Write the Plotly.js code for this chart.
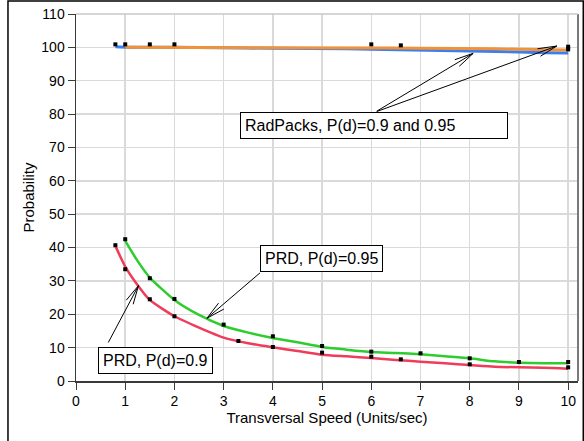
<!DOCTYPE html>
<html>
<head>
<meta charset="utf-8">
<script src="https://cdn.plot.ly/plotly-3.0.1.min.js"></script>
<style>html,body{margin:0;padding:0;background:#fff;}#chart{width:584px;height:441px;}</style>
</head>
<body>
<div id="chart"></div>
<script>
// ---- data ----
var speedRadBlue = [0.8, 1, 2, 3, 3.5, 4, 5, 5.5, 6, 6.5, 7, 7.5, 8, 8.5, 9, 9.5, 10];
var probRadBlue  = [100.2, 100, 100, 100, 99.8, 99.7, 99.7, 99.6, 99.4, 99.3, 99.2, 99.0, 99.0, 98.8, 98.6, 98.4, 98.3];
var speedRadOrange = [1, 2, 3, 4, 5, 6, 6.5, 7, 8, 8.5, 9, 9.5, 10];
var probRadOrange  = [100, 100, 100, 100, 100, 99.9, 99.8, 99.7, 99.7, 99.6, 99.4, 99.3, 99.2];

var speedPrd90 = [0.8, 1, 1.25, 1.5, 2, 2.5, 3, 3.5, 4, 4.5, 5, 5.5, 6, 6.5, 7, 7.5, 8, 8.5, 9, 9.5, 10];
var probPrd90  = [40.5, 34.3, 28.8, 24.3, 19.4, 16.0, 13.0, 11.3, 10.1, 9.0, 7.9, 7.4, 6.9, 6.3, 5.8, 5.3, 4.8, 4.3, 4.1, 4.0, 3.7];
var speedPrd95 = [1, 1.25, 1.5, 2, 2.5, 3, 3.5, 4, 4.5, 5, 5.5, 6, 6.5, 7, 7.5, 8, 8.5, 9, 9.5, 10];
var probPrd95  = [42.0, 36.0, 31.0, 24.3, 19.8, 16.5, 14.5, 12.9, 11.6, 10.2, 9.4, 8.7, 8.4, 8.0, 7.4, 6.8, 5.9, 5.5, 5.3, 5.3];

var speedPtsRad = [0.8, 1, 1.5, 2, 6, 6.6, 10, 10];
var probPtsRad  = [100.9, 100.9, 100.9, 100.9, 100.9, 100.6, 100.2, 99.4];
var speedPts90 = [0.8, 1, 1.5, 2, 3.3, 4, 5, 6, 6.6, 8, 10];
var probPts90  = [40.7, 33.5, 24.5, 19.4, 12.0, 10.2, 8.5, 7.3, 6.5, 5.0, 4.1];
var speedPts95 = [1, 1.5, 2, 3, 4, 5, 6, 7, 8, 9, 10];
var probPts95  = [42.5, 30.8, 24.6, 16.9, 13.4, 10.5, 8.8, 8.3, 6.8, 5.7, 5.7];

var xTicks = [0, 1, 2, 3, 4, 5, 6, 7, 8, 9, 10];
var yTicks = [0, 10, 20, 30, 40, 50, 60, 70, 80, 90, 100, 110];

var labelRad = "RadPacks, P(d)=0.9 and 0.95";
var label95 = "PRD, P(d)=0.95";
var label90 = "PRD, P(d)=0.9";

// ---- chart ----
var FONT = "Liberation Sans, Arial, sans-serif";
function line(x, y, color, w, shape) {
  return {x: x, y: y, type: "scatter", mode: "lines", line: {color: color, width: w, shape: shape || "linear", smoothing: 0.6}, hoverinfo: "skip", showlegend: false};
}
function pts(x, y) {
  return {x: x, y: y, type: "scatter", mode: "markers", marker: {symbol: "square", size: 4, color: "#000"}, showlegend: false};
}
var traces = [
  line(speedRadBlue, probRadBlue, "#3b7ef0", 3),
  line(speedRadOrange, probRadOrange, "#f0923a", 3),
  line(speedPrd90, probPrd90, "#f03c5a", 2.5, "spline"),
  line(speedPrd95, probPrd95, "#2ecc2e", 2.5, "spline"),
  pts(speedPtsRad, probPtsRad),
  pts(speedPts90, probPts90),
  pts(speedPts95, probPts95)
];

// arrows: tail -> tip in data coordinates
var arrows = [
  {tail: [6.08, 80.6], tip: [8.07, 98.2]},
  {tail: [6.08, 80.6], tip: [9.77, 100.4]},
  {tail: [3.77, 32.8], tip: [2.66, 18.8]},
  {tail: [0.64, 11.1], tip: [1.27, 28.6]}
];
var boxes = [
  {text: labelRad, x: 6.05, y: 76.7, width: 258, align: "left"},
  {text: label95, x: 4.98, y: 36.7},
  {text: label90, x: 1.61, y: 6.2}
];

var annotations = [];
arrows.forEach(function (a) {
  annotations.push({x: a.tip[0], y: a.tip[1], xref: "x", yref: "y", ax: a.tail[0], ay: a.tail[1], axref: "x", ayref: "y",
    text: "", showarrow: true, arrowhead: 0, arrowwidth: 1, arrowcolor: "#000"});
});
boxes.forEach(function (b) {
  var ann = {x: b.x, y: b.y, xref: "x", yref: "y", text: b.text, showarrow: false,
    font: {family: FONT, size: 16, color: "#000"}, bgcolor: "#fff", bordercolor: "#000", borderwidth: 1, borderpad: 4};
  if (b.width) { ann.width = b.width; ann.align = b.align; }
  annotations.push(ann);
});

var axisCommon = {showline: true, linecolor: "#3a3a3a", linewidth: 1.5, ticks: "outside", ticklen: 7, tickwidth: 1, tickcolor: "#3a3a3a",
  showgrid: true, gridcolor: "#dadada", gridwidth: 1.5, zeroline: false, tickfont: {family: FONT, size: 14, color: "#000"}};

var layout = {
  width: 584, height: 441,
  margin: {l: 76, r: 6, t: 14, b: 60},
  paper_bgcolor: "#fff", plot_bgcolor: "#fff",
  font: {family: FONT, color: "#000"},
  showlegend: false,
  xaxis: Object.assign({}, axisCommon, {range: [0, 10.2], tickvals: xTicks,
    title: {text: "Transversal Speed (Units/sec)", font: {family: FONT, size: 15, color: "#000"}, standoff: 1}}),
  yaxis: Object.assign({}, axisCommon, {range: [0, 110], tickvals: yTicks,
    title: {text: "Probability", font: {family: FONT, size: 15, color: "#000"}, standoff: 3}}),
  shapes: [
    {type: "line", xref: "paper", yref: "paper", x0: 1, x1: 1, y0: 0, y1: 1, line: {color: "#7a7a7a", width: 2}},
    {type: "line", xref: "paper", yref: "paper", x0: 0, x1: 1, y0: 1, y1: 1, line: {color: "#c8c8c8", width: 1.5}},
    {type: "rect", xref: "paper", yref: "paper", x0: -0.1355, x1: 1.0105, y0: -0.25, y1: 1.0354, line: {color: "#000", width: 1.5}}
  ],
  annotations: annotations
};

var gd = document.getElementById("chart");
Plotly.newPlot(gd, traces, layout, {staticPlot: true}).then(function () {
  var xa = gd._fullLayout.xaxis, ya = gd._fullLayout.yaxis;
  var barbs = [];
  var len = 21, ang = 12 * Math.PI / 180;
  arrows.forEach(function (a) {
    var dx = xa.l2p(a.tail[0]) - xa.l2p(a.tip[0]);
    var dy = ya.l2p(a.tail[1]) - ya.l2p(a.tip[1]);
    var d = Math.sqrt(dx * dx + dy * dy);
    var ux = dx / d, uy = dy / d;
    [ang, -ang].forEach(function (t) {
      var rx = ux * Math.cos(t) - uy * Math.sin(t);
      var ry = ux * Math.sin(t) + uy * Math.cos(t);
      barbs.push({x: a.tip[0], y: a.tip[1], xref: "x", yref: "y", ax: rx * len, ay: ry * len,
        text: "", showarrow: true, arrowhead: 0, arrowwidth: 1, arrowcolor: "#000"});
    });
  });
  return Plotly.relayout(gd, {annotations: annotations.concat(barbs)});
});
</script>
</body>
</html>
